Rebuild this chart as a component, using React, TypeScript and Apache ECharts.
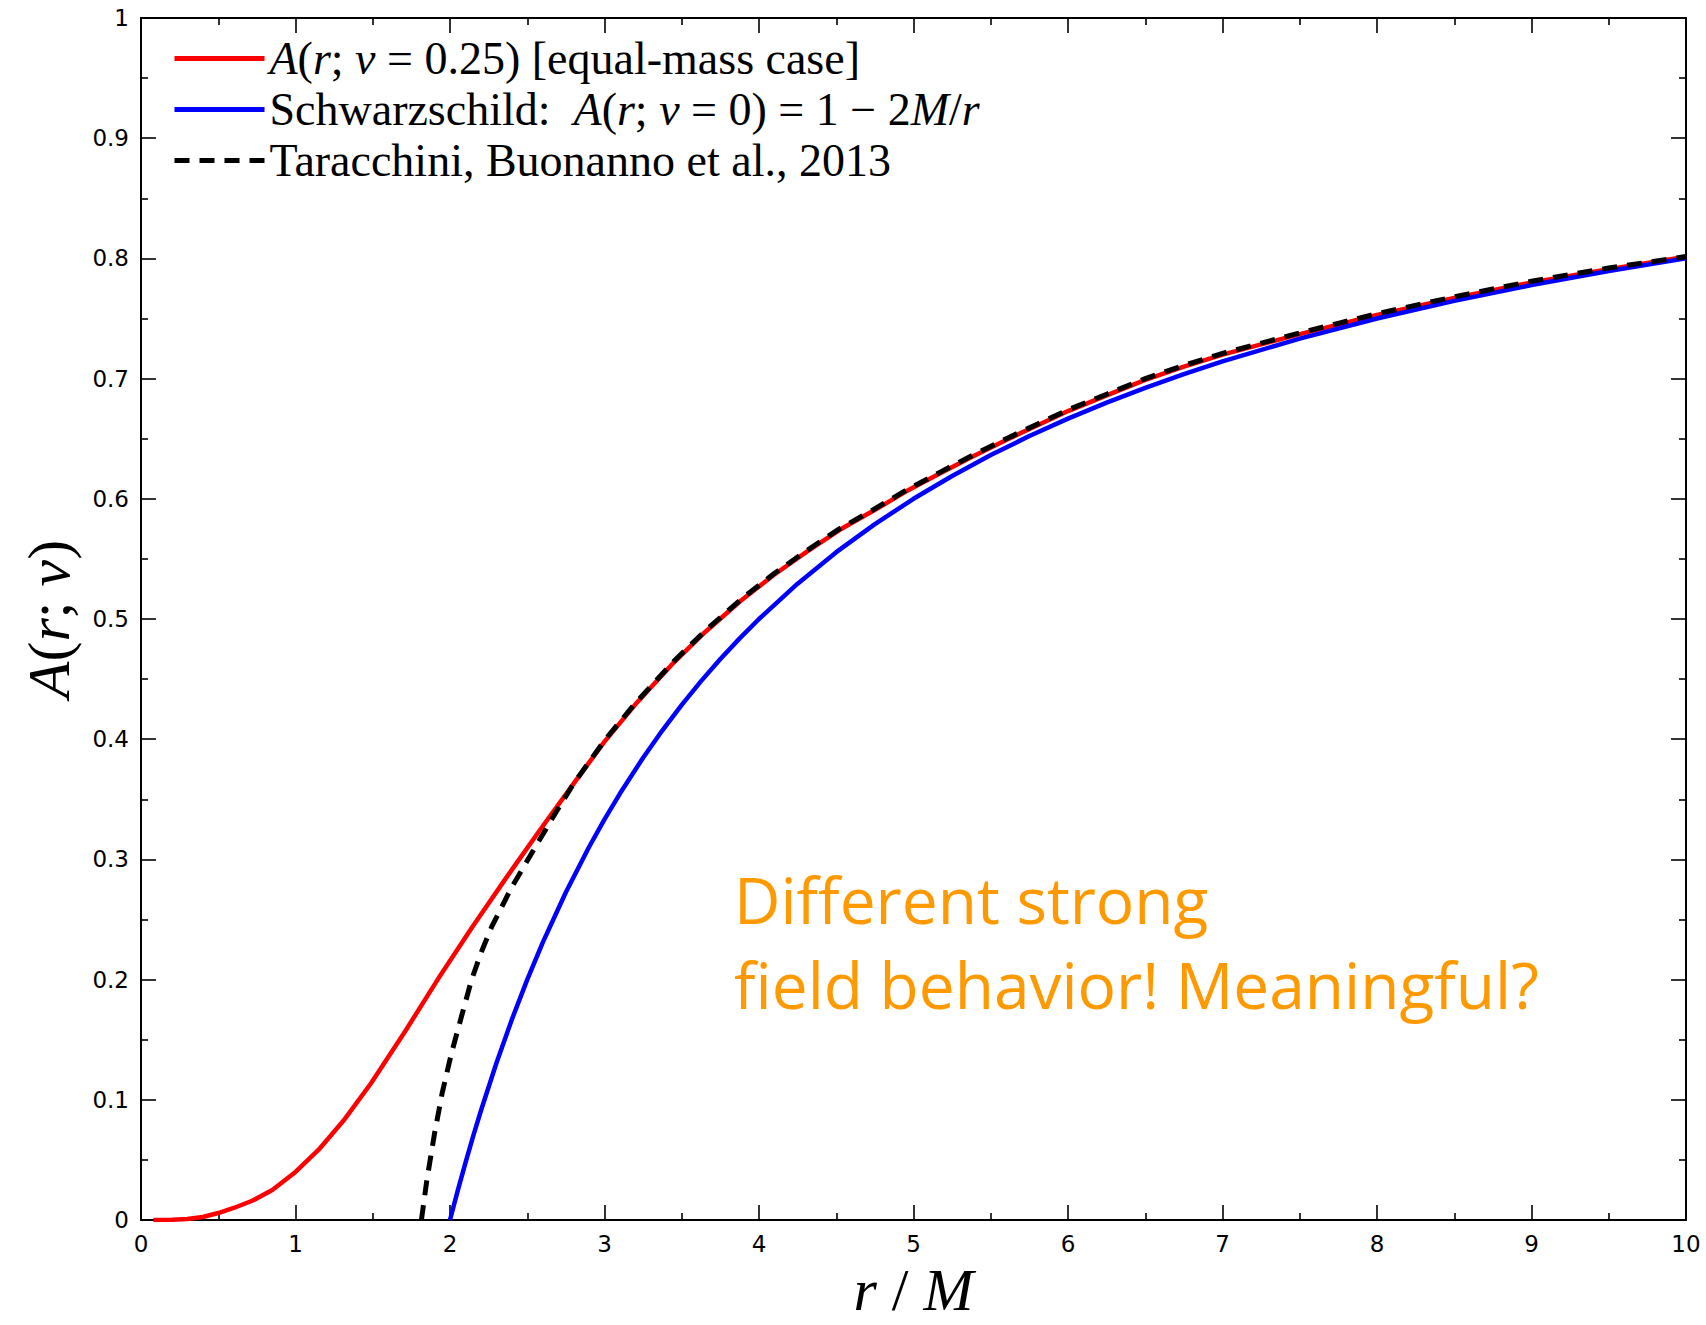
import React, { useEffect, useRef } from "react";
import * as echarts from "echarts";

// ---- data ----
const redR = [0.08, 0.2, 0.3, 0.4, 0.5, 0.6, 0.72, 0.85, 1.0, 1.15, 1.31, 1.49, 1.71, 1.92, 2.14, 2.36, 2.58, 2.8, 3.0, 3.2, 3.45, 3.65, 3.88, 4.1, 4.31, 4.52, 4.74, 4.95, 5.17, 5.38, 5.6, 5.8, 6.0, 6.25, 6.5, 6.75, 7.0, 7.5, 8.0, 8.5, 9.0, 9.5, 10.0];
const redA = [0, 0.0002, 0.0008, 0.0025, 0.0058, 0.01, 0.016, 0.025, 0.04, 0.0585, 0.0825, 0.114, 0.157, 0.2, 0.243, 0.284, 0.324, 0.363, 0.398, 0.429, 0.464, 0.489, 0.515, 0.537, 0.556, 0.574, 0.59, 0.606, 0.621, 0.635, 0.649, 0.661, 0.673, 0.686, 0.699, 0.71, 0.72, 0.737, 0.753, 0.767, 0.78, 0.791, 0.8015];

const blueR = [2.0, 2.05, 2.1, 2.15, 2.2, 2.3, 2.4, 2.5, 2.6, 2.75, 2.9, 3.0, 3.1, 3.25, 3.375, 3.5, 3.625, 3.75, 3.875, 4.0, 4.25, 4.5, 4.75, 5.0, 5.25, 5.5, 5.75, 6.0, 6.25, 6.5, 6.75, 7.0, 7.5, 8.0, 8.5, 9.0, 9.5, 10.0];
const blueA = [0, 0.0244, 0.0476, 0.0698, 0.0909, 0.1304, 0.1667, 0.2, 0.2308, 0.2727, 0.3103, 0.3333, 0.3548, 0.3846, 0.4074, 0.4286, 0.4483, 0.4667, 0.4839, 0.5, 0.5294, 0.5556, 0.5789, 0.6, 0.619, 0.6364, 0.6522, 0.6667, 0.68, 0.6923, 0.7037, 0.7143, 0.7333, 0.75, 0.7647, 0.7778, 0.7895, 0.8];

const blackR = [1.815, 1.85, 1.9, 1.95, 2.01, 2.08, 2.14, 2.2, 2.27, 2.4, 2.56, 2.68, 2.8, 3.0, 3.2, 3.45, 3.65, 3.88, 4.1, 4.31, 4.52, 4.74, 4.95, 5.17, 5.38, 5.6, 5.8, 6.0, 6.25, 6.5, 6.75, 7.0, 7.5, 8.0, 8.5, 9.0, 9.5, 10.0];
const blackA = [0, 0.033, 0.072, 0.106, 0.139, 0.172, 0.2, 0.222, 0.244, 0.277, 0.312, 0.338, 0.363, 0.399, 0.43, 0.465, 0.49, 0.516, 0.538, 0.557, 0.575, 0.591, 0.607, 0.622, 0.636, 0.65, 0.662, 0.674, 0.687, 0.7, 0.711, 0.721, 0.738, 0.754, 0.768, 0.781, 0.792, 0.8015];

const xTicks = { min: 0, max: 10, interval: 1 };
const yTicks = { min: 0, max: 1, interval: 0.1 };

const seriesNames = ["nu025", "schw", "tara"];
const legendLabels: Record<string, string> = {
  nu025: "{i|A}({i|r}; {i|ν} = 0.25) [equal-mass case]",
  schw: "Schwarzschild:  {i|A}({i|r}; {i|ν} = 0) = 1 − 2{i|M}/{i|r}",
  tara: "Taracchini, Buonanno et al., 2013",
};
const annotation = "Different strong\nfield behavior! Meaningful?";

const pairs = (xs: number[], ys: number[]) => xs.map((x, i) => [x, ys[i]]);

const SERIF = '"Liberation Serif", "Times New Roman", serif';
const SANS = '"DejaVu Sans", sans-serif';

function axisCommon(showLabel: boolean) {
  return {
    axisLine: { show: true, onZero: false, lineStyle: { color: "#000", width: 2 } },
    axisTick: { show: true, inside: true, length: 15, lineStyle: { color: "#000", width: 1.6 } },
    minorTick: { show: true, splitNumber: 2, length: 7, lineStyle: { color: "#000", width: 1.6 } },
    splitLine: { show: false },
    minorSplitLine: { show: false },
    axisLabel: { show: showLabel, fontFamily: SANS, fontSize: 23, color: "#000", margin: 12 },
  };
}

export default function App() {
  const ref = useRef<HTMLDivElement>(null);
  useEffect(() => {
    if (!ref.current) return;
    const chart = echarts.init(ref.current, undefined, { renderer: "svg" });
    const mathRich = {
      i: { fontStyle: "italic", fontFamily: SERIF, fontSize: 60, color: "#000" },
      u: { fontFamily: SERIF, fontSize: 60, color: "#000" },
    };
    const lineCommon = { type: "line", symbol: "none", showSymbol: false, smooth: false };
    chart.setOption({
      animation: false,
      backgroundColor: "#fff",
      grid: { left: 141, right: 20, top: 18, bottom: 103, containLabel: false },
      xAxis: [
        {
          type: "value",
          position: "bottom",
          ...xTicks,
          ...axisCommon(true),
          name: "{i|r}{u| / }{i|M}",
          nameLocation: "middle",
          nameGap: 40,
          nameTextStyle: { rich: mathRich, fontSize: 60 },
        },
        { type: "value", position: "top", ...xTicks, ...axisCommon(false) },
      ],
      yAxis: [
        {
          type: "value",
          position: "left",
          ...yTicks,
          ...axisCommon(true),
          name: "{i|A}{u|(}{i|r}{u|; }{i|ν}{u|)}",
          nameLocation: "middle",
          nameRotate: 90,
          nameGap: 62,
          nameTextStyle: { rich: mathRich, fontSize: 60 },
        },
        { type: "value", position: "right", ...yTicks, ...axisCommon(false) },
      ],
      legend: {
        data: seriesNames,
        orient: "vertical",
        left: 172,
        top: 33,
        padding: 0,
        itemGap: 0,
        itemWidth: 90,
        itemHeight: 1,
        selectedMode: false,
        itemStyle: { color: "rgba(0,0,0,0)", borderWidth: 0, opacity: 0 },
        lineStyle: { width: 5 },
        formatter: (name: string) => legendLabels[name],
        textStyle: {
          fontFamily: SERIF,
          fontSize: 46,
          color: "#000",
          lineHeight: 51,
          rich: {
            i: { fontStyle: "italic", fontFamily: SERIF, fontSize: 46, lineHeight: 51, color: "#000" },
          },
        },
      },
      series: [
        {
          ...lineCommon,
          name: "nu025",
          data: pairs(redR, redA),
          lineStyle: { color: "#ff0000", width: 4.5 },
          itemStyle: { color: "#ff0000" },
        },
        {
          ...lineCommon,
          name: "schw",
          data: pairs(blueR, blueA),
          lineStyle: { color: "#0000ff", width: 4.5 },
          itemStyle: { color: "#0000ff" },
        },
        {
          ...lineCommon,
          name: "tara",
          data: pairs(blackR, blackA),
          lineStyle: { color: "#000", width: 5, type: [15, 10] },
          itemStyle: { color: "#000" },
        },
      ],
      graphic: [
        {
          type: "text",
          x: 734,
          y: 857,
          style: {
            text: annotation,
            fill: "#ff9900",
            fontFamily: '"Open Sans", sans-serif',
            fontSize: 64,
            lineHeight: 85,
          },
        },
      ],
    });
    return () => chart.dispose();
  }, []);
  return (
    <div
      ref={ref}
      style={{ position: "absolute", left: 0, top: 0, width: 1706, height: 1325, background: "#fff" }}
    />
  );
}
